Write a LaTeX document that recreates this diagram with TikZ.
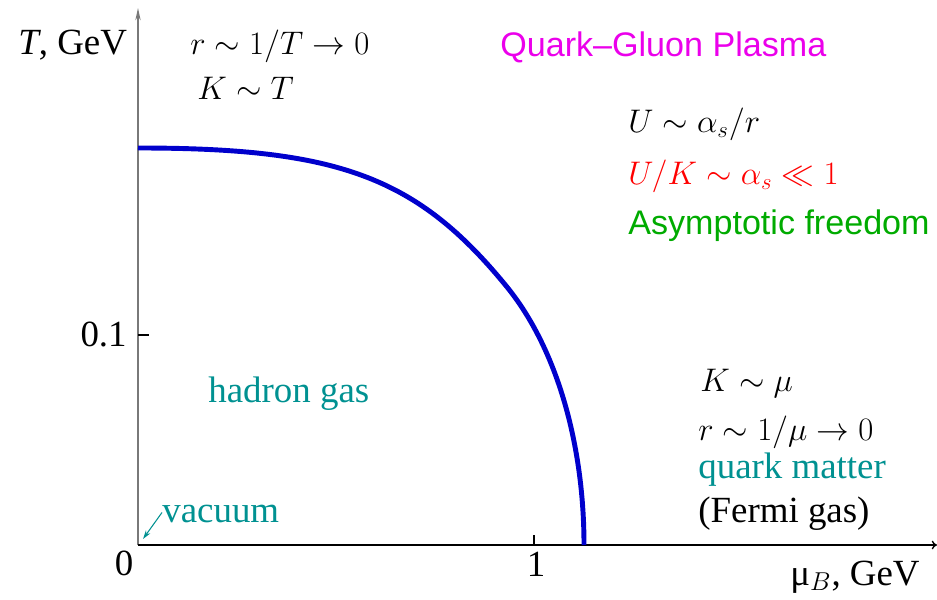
\RequirePackage{fix-cm}
\documentclass[tikz,border=0pt]{standalone}
\usepackage[no-math]{fontspec}
\setmainfont{Liberation Serif}
\setsansfont{Liberation Sans}
\usepackage{amsmath}
\usepackage{amssymb}
\usepackage{tikz}
\usetikzlibrary{arrows.meta,positioning,calc}
\definecolor{tealgas}{rgb}{0.0, 0.57, 0.57}
\definecolor{freegreen}{rgb}{0.0, 0.67, 0.0}
\definecolor{curveblue}{rgb}{0.0, 0.0, 0.8}
\definecolor{qgpmagenta}{rgb}{0.92, 0.0, 0.92}

\tikzset{
    txt/.style={inner sep=0pt, anchor=base west, font=\fontsize{21}{25}\selectfont},
    eqn/.style={inner sep=0pt, anchor=base west, font=\fontsize{18.6}{22}\selectfont},
    sans/.style={inner sep=0pt, anchor=base west, font=\fontsize{19.4}{23}\sffamily},
}

\begin{document}
\begin{tikzpicture}
    \useasboundingbox (-2.76,-1.08) rectangle (15.98,10.9);
    % Axes
    \coordinate (o) at (0,0);
    \coordinate (tmax) at (0,10.74);
    \coordinate (mumax) at (15.98,0);
    \draw[gray!95!black,line width=0.9pt,-{Stealth[length=7pt,width=3pt]}] (o) -- (tmax);
    \draw[line width=0.8pt,-{To[length=3pt,width=5pt]}] (o) -- (mumax);
    % Ticks
    \draw[line width=0.6pt] (7.92,0) -- (7.92,0.2);
    \draw[line width=0.6pt] (0,4.2) -- (0.22,4.2);
    \node[txt,anchor=base east] (t01) at (-0.22,3.96) {0.1};
    \node[txt,anchor=base] (zero) at (-0.28,-0.60) {0};
    \node[txt,anchor=base] (one) at (7.96,-0.62) {1};
    \node[txt] (tlab) at (-2.40,9.80) {\textit{T}, GeV};
    \node[txt] (mulab) at (13.04,-0.80) {μ$_B$, GeV};

    % Phase boundary
    \coordinate (tc) at (0,7.94);
    \coordinate (mid) at (7.38,5.16);
    \coordinate (muc) at (8.92,0);
    \draw[curveblue,line width=2.8pt] (tc) .. controls (4.0,7.94) and (5.58,7.37) .. (mid)
        .. controls (8.38,3.93) and (8.92,2.0) .. (muc);

    % Quark-gluon plasma side
    \node[eqn] (rT) at (1.04,9.80) {$r\sim 1/T\to 0$};
    \node[eqn] (KT) at (1.18,8.90) {$K\sim T$};
    \node[sans,qgpmagenta] (qgp) at (7.24,9.76) {Quark--Gluon Plasma};
    \node[eqn] (Ur) at (9.80,8.24) {$U\sim \alpha_s/r$};
    \node[eqn,red] (UK) at (9.80,7.20) {$U/K\sim \alpha_s\ll 1$};
    \node[sans,freegreen] (free) at (9.80,6.20) {Asymptotic freedom};

    % Hadron side
    \node[txt,tealgas] (hadron) at (1.40,2.84) {hadron gas};
    \node[txt,tealgas] (vac) at (0.48,0.46) {vacuum};
    \coordinate (vacpt) at (0.10,0.12);
    \draw[tealgas,line width=0.6pt,-{Stealth[length=5pt,width=3pt]}] (vac.west) ++(0,0.02) -- (vacpt);

    % Quark matter side
    \node[eqn] (Kmu) at (11.24,3.06) {$K\sim \mu$};
    \node[eqn] (rmu) at (11.20,2.10) {$r\sim 1/\mu\to 0$};
    \node[txt,tealgas] (qm) at (11.20,1.34) {quark matter};
    \node[txt] (fermi) at (11.20,0.46) {(Fermi gas)};
\end{tikzpicture}
\end{document}
